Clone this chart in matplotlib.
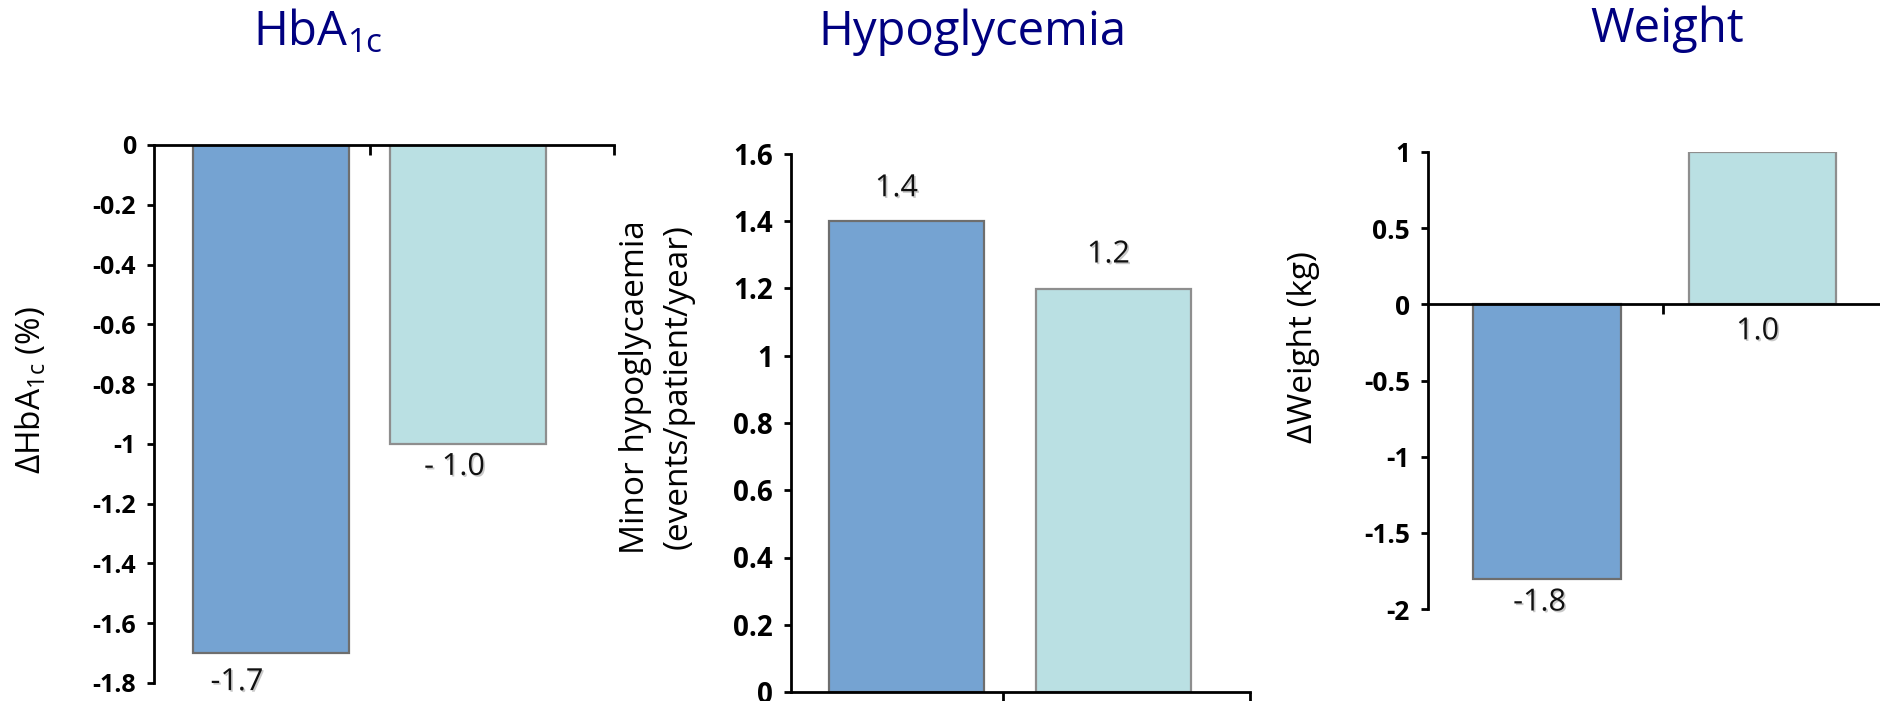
import numpy as np
import matplotlib
matplotlib.use("Agg")
import matplotlib.pyplot as plt
import matplotlib.patheffects as pe

plt.rcParams['font.family'] = ['Open Sans', 'DejaVu Sans']
plt.rcParams['mathtext.default'] = 'regular'

# ── data ──
TITLES   = ['HbA$_{1c}$', 'Hypoglycemia', 'Weight']
YLABELS  = ['ΔHbA$_{1c}$ (%)', 'Minor hypoglycaemia\n(events/patient/year)', 'ΔWeight (kg)']
VALUES   = [[-1.7, -1.0], [1.4, 1.2], [-1.8, 1.0]]
VLABELS  = [['-1.7', '- 1.0'], ['1.4', '1.2'], ['-1.8', '1.0']]
YTICKS   = [np.arange(-1.8, 0.01, 0.2), np.arange(0, 1.61, 0.2), np.arange(-2, 1.01, 0.5)]
YTICKLBL = [['-1.8', '-1.6', '-1.4', '-1.2', '-1', '-0.8', '-0.6', '-0.4', '-0.2', '0'],
            ['0', '0.2', '0.4', '0.6', '0.8', '1', '1.2', '1.4', '1.6'],
            ['-2', '-1.5', '-1', '-0.5', '0', '0.5', '1']]

# ── layout (figure pixels, 1880 x 701) ──
W, H = 1880, 701
AX_PX   = [(154, 145, 614, 683), (791, 154, 1250, 692), (1428, 152, 1880, 609)]
XLIMS   = [(-0.592, 1.737), (-0.558, 1.66), (-0.549, 1.544)]
XTICKS  = [[0.501, 1.737], [0.466, 1.66], [0.539]]
BAR_W   = [0.79, 0.75, 0.685]
TICK_FS = [18, 20, 19]
TITLE_POS = [(318, 45), (972, 45), (1667, 42)]
YLAB_POS  = [(31, 390), (657, 387), (1303, 347)]
# label anchor (value or baseline) and offset in px (dx, dy; +dy = up)
LBL_ANCHOR = [['v', 'v'], ['v', 'v'], ['v', 0]]
LBL_OFF    = [[(-34, -29), (-14, -23)], [(-10, 33), (-5, 34)], [(-7, -24), (-5, -27)]]

COLORS = ['#75A3D2', '#BAE0E3']
EDGES  = ['#6E6E6E', '#8E8E8E']
NAVY   = '#000080'
PX = 0.72  # points per pixel at dpi 100

fig = plt.figure(figsize=(W / 100, H / 100), dpi=100)
shadow = [pe.SimplePatchShadow(offset=(1.2, -1.2), shadow_rgbFace='#888888', alpha=0.45), pe.Normal()]

for i in range(3):
    x0, y0, x1, y1 = AX_PX[i]
    ax = fig.add_axes([x0 / W, 1 - y1 / H, (x1 - x0) / W, (y1 - y0) / H])
    xs = np.arange(len(VALUES[i]))
    ax.bar(xs, VALUES[i], width=BAR_W[i], color=COLORS, edgecolor=EDGES, linewidth=1.6, zorder=2)
    ax.set_xlim(*XLIMS[i])
    ax.set_ylim(YTICKS[i][0], YTICKS[i][-1])
    ax.set_yticks(YTICKS[i])
    ax.set_yticklabels(YTICKLBL[i], fontsize=TICK_FS[i], fontweight='bold')
    ax.set_xticks(XTICKS[i])
    ax.set_xticklabels([])
    for s in ['top', 'right']:
        ax.spines[s].set_visible(False)
    ax.spines['bottom'].set_position(('data', 0))
    ax.spines['bottom'].set_zorder(3)
    for s in ['left', 'bottom']:
        ax.spines[s].set_linewidth(2)
        ax.spines[s].set_color('black')
    ax.tick_params(axis='y', direction='out', length=5, width=2, pad=8)
    ax.tick_params(axis='x', direction='out', length=7, width=2)
    ax.patch.set_alpha(0)

    for j, v in enumerate(VALUES[i]):
        anchor = v if LBL_ANCHOR[i][j] == 'v' else LBL_ANCHOR[i][j]
        dx, dy = LBL_OFF[i][j]
        ax.annotate(VLABELS[i][j], (xs[j], anchor), xytext=(dx * PX, dy * PX),
                    textcoords='offset points', ha='center', va='center',
                    fontsize=22, color='#111111', path_effects=shadow, annotation_clip=False)

    tx, ty = TITLE_POS[i]
    fig.text(tx / W, 1 - ty / H, TITLES[i], ha='center', va='baseline', fontsize=34, color=NAVY)
    lx, ly = YLAB_POS[i]
    fig.text(lx / W, 1 - ly / H, YLABELS[i], ha='center', va='center', rotation=90,
             fontsize=24, linespacing=1.38)

fig.savefig('out.png', dpi=100)
